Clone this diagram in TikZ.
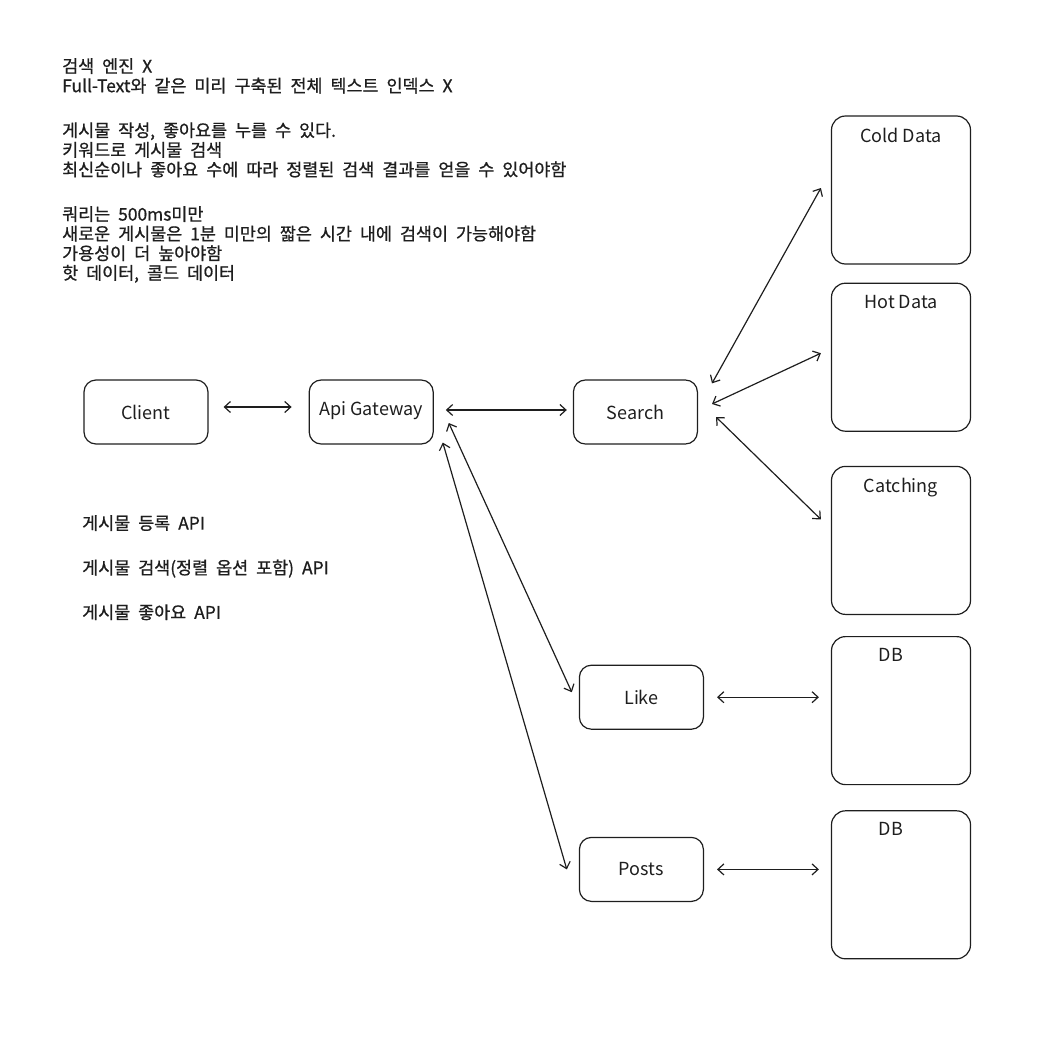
\documentclass[tikz,border=0pt]{standalone}
\usepackage{fontspec}
\setmainfont{Noto Sans CJK KR}
\newfontfamily\notefont[FakeBold=0.8]{Noto Sans CJK KR}
\usetikzlibrary{arrows.meta, positioning}
\definecolor{ink}{HTML}{1E1E1E}

\begin{document}
\begin{tikzpicture}[
      x=1pt, y=-1pt,
      box/.style={rectangle, draw=ink, line width=1.2pt, rounded corners=12pt, minimum width=124pt, minimum height=64pt, text=ink, font=\fontsize{18}{22}\selectfont},
      store/.style={rectangle, draw=ink, line width=1.2pt, rounded corners=14pt, minimum width=139pt, minimum height=148pt},
      storelabel/.style={anchor=north, yshift=-9pt, text=ink, font=\fontsize{18}{22}\selectfont},
      note/.style={anchor=north west, align=left, inner sep=0pt, text=ink, font=\notefont\fontsize{17.4}{19.6}\selectfont, execute at begin node={\spaceskip=8pt\relax}},
      arrow/.style={ink, line width=1.2pt, {Straight Barb[length=6pt,width=11pt]}-{Straight Barb[length=6pt,width=11pt]}}
    ]
    \useasboundingbox (0,0) rectangle (1060,1044);

    % 요구사항
    \node (reqs) [note] at (62,58) {검색 엔진 X\\
      Full-Text와 같은 미리 구축된 전체 텍스트 인덱스 X\\[25pt]
      게시물 작성, 좋아요를 누를 수 있다.\\
      키워드로 게시물 검색\\
      최신순이나 좋아요 수에 따라 정렬된 검색 결과를 얻을 수 있어야함\\[25pt]
      쿼리는 500ms미만\\
      새로운 게시물은 1분 미만의 짧은 시간 내에 검색이 가능해야함\\
      가용성이 더 높아야함\\
      핫 데이터, 콜드 데이터};
    \node (apis) [note] at (82,515) {게시물 등록 API\\[25pt]
      게시물 검색(정렬 옵션 포함) API\\[25pt]
      게시물 좋아요 API};

    % 서비스
    \node (client) [box] at (146,412) {Client};
    \node (gateway) [box, right=100pt of client, text depth=6pt] {Api Gateway};
    \node (search) [box, right=139pt of gateway] {Search};
    \node (like) [box, below=220pt of search, xshift=6pt] {Like};
    \node (posts) [box, below=107pt of like] {Posts};

    % 저장소
    \node (cold) [store, label={[storelabel]north:Cold Data}] at (901,190) {};
    \node (hot) [store, below=18pt of cold, label={[storelabel]north:Hot Data}] {};
    \node (cache) [store, below=34pt of hot, label={[storelabel]north:Catching}] {};
    \node (likedb) [store, below=21pt of cache, label={[storelabel, xshift=-10pt]north:DB}] {};
    \node (postsdb) [store, below=25pt of likedb, label={[storelabel, xshift=-10pt]north:DB}] {};

    % 연결
    \draw [arrow, shorten <=15pt, shorten >=17pt] ([yshift=5pt]client.east) -- ([yshift=5pt]client.east -| gateway.west);
    \draw [arrow, shorten <=12pt, shorten >=6pt] ([yshift=2pt]gateway.east) -- ([yshift=2pt]gateway.east -| search.west);
    \draw [arrow] ([xshift=14pt, yshift=-4pt]search.north east) -- ([xshift=-10pt, yshift=2pt]cold.west);
    \draw [arrow] ([xshift=14pt, yshift=8pt]search.east) -- ([xshift=-10pt, yshift=4pt]hot.west);
    \draw [arrow] ([xshift=18pt, yshift=-5pt]search.east) -- ([xshift=-10pt, yshift=21pt]cache.west);
    \draw [arrow] ([xshift=15pt, yshift=-11pt]gateway.east) -- ([xshift=-7pt, yshift=5pt]like.west);
    \draw [arrow] ([xshift=9pt, yshift=2pt]gateway.south east) -- ([xshift=-12pt]posts.west);
    \draw [arrow, shorten <=13pt, shorten >=12pt] (like.east) -- (like.east -| likedb.west);
    \draw [arrow, shorten <=13pt, shorten >=12pt] (posts.east) -- (posts.east -| postsdb.west);

  \end{tikzpicture}
\end{document}
